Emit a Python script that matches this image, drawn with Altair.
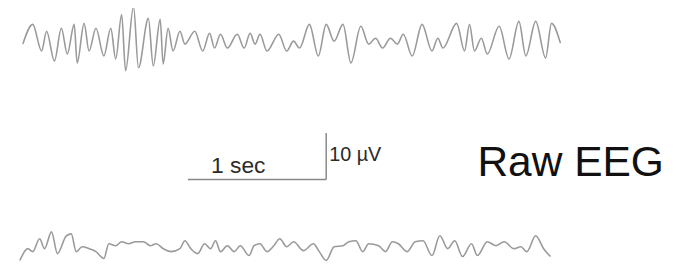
import altair as alt
import pandas as pd

# Calibration: 140 px = 1 sec, 47 px = 10 uV
PX_PER_SEC = 140.0
PX_PER_UV = 4.7
X0 = 20.0  # pixel where time 0 sits

# Top trace: extrema (pixel x, pixel y)
top_x = [23, 33, 42, 47, 55, 62, 68, 75, 78, 85, 90, 97, 105, 112, 117, 123, 127, 135, 140,
         150, 155, 162, 165, 170, 175, 182, 187, 197, 205, 212, 217, 223, 230, 240, 247, 253,
         258, 263, 270, 282, 290, 297, 303, 313, 322, 330, 338, 347, 355, 365, 373, 380, 387,
         395, 402, 408, 417, 427, 437, 443, 448, 462, 470, 475, 480, 487, 493, 505, 515, 525,
         532, 542, 552, 558, 567]
top_y = [43, 23, 50, 30, 60, 27, 53, 23, 62, 22, 50, 27, 55, 27, 58, 13, 70, 5, 67,
         17, 65, 18, 63, 27, 50, 30, 43, 30, 50, 32, 47, 33, 47, 33, 47, 32,
         43, 33, 50, 33, 50, 40, 47, 23, 55, 23, 40, 23, 62, 25, 43, 37, 47,
         37, 43, 33, 55, 23, 50, 37, 47, 22, 50, 23, 50, 37, 53, 25, 58, 20,
         55, 20, 57, 22, 42]

# Bottom trace
bot_x = [20, 28, 33, 40, 45, 52, 58, 67, 72, 77, 83, 90, 97, 105, 110, 117, 123, 130, 137,
         145, 152, 158, 165, 173, 182, 187, 193, 200, 207, 213, 218, 223, 230, 237, 243, 252,
         257, 263, 270, 277, 283, 290, 297, 307, 317, 323, 330, 338, 347, 353, 360, 367, 373,
         383, 390, 397, 403, 412, 420, 428, 437, 445, 453, 460, 468, 477, 483, 493, 502, 510,
         520, 527, 533, 542, 550, 557]
bot_y = [262, 250, 253, 240, 250, 233, 255, 237, 235, 253, 248, 250, 253, 260, 245, 247, 243, 245, 243,
         243, 247, 245, 250, 253, 250, 242, 250, 255, 245, 250, 242, 253, 247, 253, 247, 257,
         247, 245, 253, 247, 240, 248, 243, 252, 245, 253, 262, 248, 247, 243, 242, 253, 245,
         247, 253, 243, 245, 253, 243, 242, 257, 237, 250, 242, 258, 245, 257, 243, 247, 243,
         250, 248, 253, 237, 250, 258]

rows = []
for x, y in zip(top_x, top_y):
    rows.append({"trace": "top", "t": (x - X0) / PX_PER_SEC, "u": -y / PX_PER_UV})
for x, y in zip(bot_x, bot_y):
    rows.append({"trace": "bottom", "t": (x - X0) / PX_PER_SEC, "u": -y / PX_PER_UV})
df = pd.DataFrame(rows)
df["i"] = range(len(df))

xs = alt.Scale(domain=[(8 - X0) / PX_PER_SEC, (687 - X0) / PX_PER_SEC], nice=False, zero=False)
ys = alt.Scale(domain=[-265 / PX_PER_UV, -8 / PX_PER_UV], nice=False, zero=False)

lines = alt.Chart(df).mark_line(color="#9a9a9a", strokeWidth=1.6, interpolate="monotone").encode(
    x=alt.X("t:Q", scale=xs, axis=None),
    y=alt.Y("u:Q", scale=ys, axis=None),
    detail="trace:N",
    order="i:Q",
)

# Scale bar: 1 sec horizontal, 10 uV vertical
bar_t0 = (190 - X0) / PX_PER_SEC
bar_t1 = bar_t0 + 1.0
bar_u0 = -180 / PX_PER_UV
bar_u1 = bar_u0 + 10.0
sb = pd.DataFrame([
    {"t": bar_t0, "u": bar_u0, "t2": bar_t1, "u2": bar_u0},
    {"t": bar_t1, "u": bar_u0, "t2": bar_t1, "u2": bar_u1},
])
scalebar = alt.Chart(sb).mark_rule(color="#888888", strokeWidth=1.5).encode(
    x=alt.X("t:Q", scale=xs), x2="t2:Q",
    y=alt.Y("u:Q", scale=ys), y2="u2:Q",
)

labels = pd.DataFrame([
    {"t": (241 - X0) / PX_PER_SEC, "u": -173 / PX_PER_UV, "txt": "1 sec", "k": "a"},
    {"t": (333 - X0) / PX_PER_SEC, "u": -161 / PX_PER_UV, "txt": "10 \u00b5V", "k": "b"},
])
lab1 = alt.Chart(labels[labels.k == "a"]).mark_text(
    font="Liberation Sans", fontSize=23, color="#2a2a2a", align="center", baseline="alphabetic"
).encode(x=alt.X("t:Q", scale=xs), y=alt.Y("u:Q", scale=ys), text="txt:N")
lab2 = alt.Chart(labels[labels.k == "b"]).mark_text(
    font="Liberation Sans", fontSize=20, color="#2a2a2a", align="left", baseline="alphabetic"
).encode(x=alt.X("t:Q", scale=xs), y=alt.Y("u:Q", scale=ys), text="txt:N")

title_df = pd.DataFrame([{"t": (483 - X0) / PX_PER_SEC, "u": -176 / PX_PER_UV, "txt": "Raw EEG"}])
title = alt.Chart(title_df).mark_text(
    font="Liberation Sans", fontSize=43, color="#111111", align="left", baseline="alphabetic"
).encode(x=alt.X("t:Q", scale=xs), y=alt.Y("u:Q", scale=ys), text="txt:N")

chart = alt.layer(lines, scalebar, lab1, lab2, title).properties(
    width=679, height=257, autosize=alt.AutoSizeParams(type="none"), padding=0,
    background="white",
).configure_view(stroke=None)

chart.save("out.html", embed_options={"renderer": "svg", "actions": False})
